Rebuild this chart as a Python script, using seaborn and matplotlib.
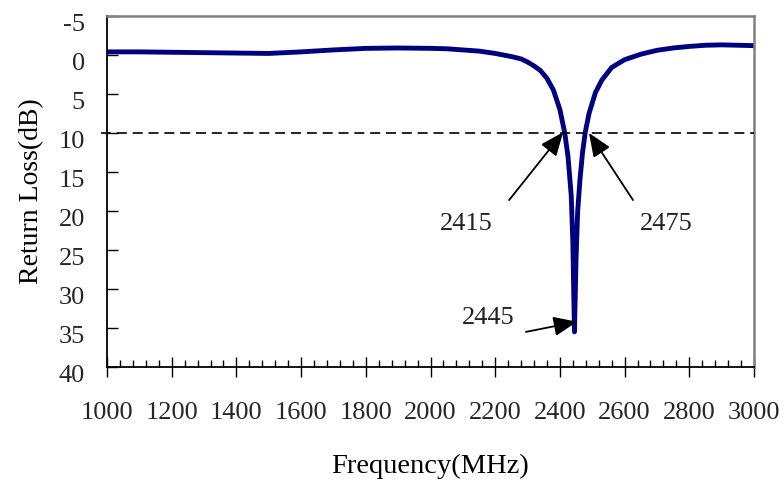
import matplotlib
matplotlib.use("Agg")
import matplotlib.pyplot as plt
import matplotlib.transforms as mtransforms
import seaborn as sns
import pandas as pd

# ---- data ----
freq_mhz = [1000, 1100, 1200, 1300, 1400, 1500, 1600, 1700, 1800, 1900,
            2000, 2050, 2100, 2150, 2200, 2250, 2280, 2300, 2320, 2340,
            2360, 2380, 2400, 2415, 2425, 2435, 2440, 2445, 2450, 2455,
            2462, 2470, 2478, 2490, 2510, 2530, 2560, 2600, 2650, 2700,
            2750, 2800, 2850, 2900, 2950, 3000]
return_loss_db = [-0.4, -0.4, -0.35, -0.3, -0.25, -0.2, -0.4, -0.65, -0.85, -0.9,
                  -0.85, -0.8, -0.65, -0.5, -0.2, 0.2, 0.5, 0.9, 1.4, 2.0,
                  3.0, 4.5, 7.0, 10.0, 13.0, 18.0, 24.0, 35.5, 26.0, 20.0,
                  16.0, 12.5, 10.0, 7.5, 4.8, 3.2, 1.6, 0.6, -0.1, -0.6,
                  -0.9, -1.1, -1.25, -1.3, -1.25, -1.2]
threshold_db = 10
x_ticks = [1000, 1200, 1400, 1600, 1800, 2000, 2200, 2400, 2600, 2800, 3000]
y_ticks = [-5, 0, 5, 10, 15, 20, 25, 30, 35, 40]
annot_labels = ["2415", "2475", "2445"]
annot_tips = [(2410, 9.9), (2490, 10.0), (2453, 34.2)]
annot_tails = [(2243, 18.6), (2626, 18.6), (2295, 35.5)]
annot_text_pos = [(2110, 21.7), (2728, 21.7), (2178, 33.7)]

df = pd.DataFrame({"Frequency": freq_mhz, "RL": return_loss_db})

sns.set_theme(style="white")
plt.rcParams["font.family"] = ["Liberation Serif", "DejaVu Serif"]
plt.rcParams["axes.unicode_minus"] = False

fig = plt.figure(figsize=(7.84, 4.87), dpi=100)
ax = fig.add_axes([107 / 784, 1 - 367 / 487, 647 / 784, 351 / 487])

sns.lineplot(data=df, x="Frequency", y="RL", ax=ax, color="#000080",
             linewidth=3.5, sort=True, estimator=None)

# threshold dashed line (extends slightly left of the axis)
ax.plot([980, 3000], [threshold_db, threshold_db], color="black", lw=1.2,
        ls=(0, (6, 3.5)), clip_on=False, zorder=3)

ax.set_xlim(1000, 3000)
ax.set_ylim(40, -5)
ax.set_xticks(x_ticks)
ax.set_xticks(list(range(1000, 3001, 40)), minor=True)
ax.set_yticks(y_ticks)
ax.set_xticklabels([str(t) for t in x_ticks])
ax.set_yticklabels([str(t) for t in y_ticks])

ax.tick_params(axis="x", which="major", direction="inout", length=14, width=1.0,
               color="black", labelsize=19, pad=18, bottom=True)
ax.tick_params(axis="x", which="minor", direction="in", length=5, width=1.0,
               color="black", bottom=True)
ax.tick_params(axis="y", which="major", direction="in", length=8, width=1.0,
               color="black", labelsize=19, pad=16, left=True)

# shift y tick labels slightly down as in the reference
offset = mtransforms.ScaledTranslation(0, -5 / 72, fig.dpi_scale_trans)
for lab in ax.get_yticklabels():
    lab.set_transform(lab.get_transform() + offset)

for side in ["left", "bottom"]:
    ax.spines[side].set_color("black")
    ax.spines[side].set_linewidth(1.3)
for side in ["top", "right"]:
    ax.spines[side].set_color("#808080")
    ax.spines[side].set_linewidth(1.8)

ax.set_xlabel("Frequency(MHz)", fontsize=20.5, labelpad=22, color="black")
ax.set_ylabel("Return Loss(dB)", fontsize=20, labelpad=10, color="black")

for lab, tip, tail, tpos in zip(annot_labels, annot_tips, annot_tails, annot_text_pos):
    ax.annotate("", xy=tip, xytext=tail,
                arrowprops=dict(arrowstyle="-|>,head_length=0.6,head_width=0.25",
                                mutation_scale=24, lw=1.3, color="black",
                                shrinkA=0, shrinkB=0))
    ax.text(tpos[0], tpos[1], lab, fontsize=19, ha="center", va="center",
            color="#222222")

fig.savefig("out.png", dpi=100)
